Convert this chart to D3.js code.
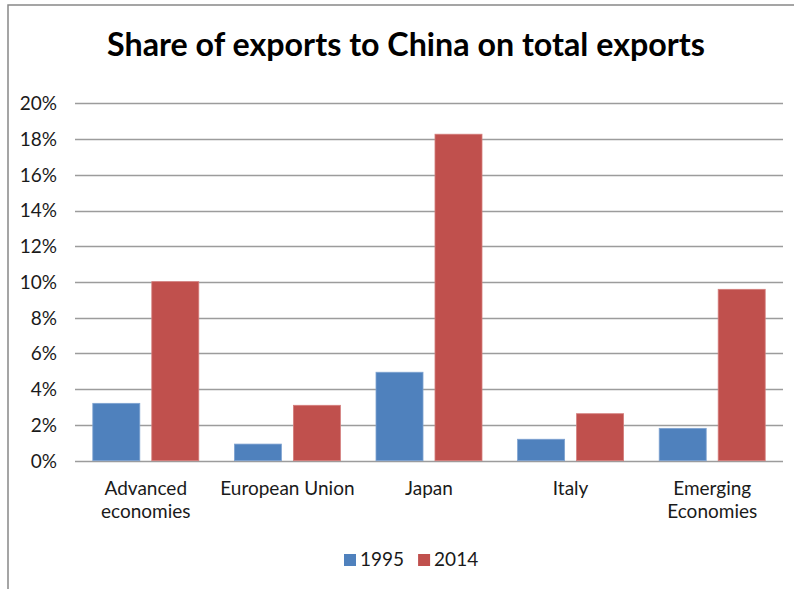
<!DOCTYPE html>
<html>
<head>
<meta charset="utf-8">
<script src="https://cdn.jsdelivr.net/npm/d3@7"></script>
<style>
  body { margin: 0; background: #fff; }
  text { font-family: Lato, "Open Sans", sans-serif; fill: #1a1a1a; }
</style>
</head>
<body>
<div id="chart"></div>
<script>
// data
var categories = [['Advanced', 'economies'], ['European Union'], ['Japan'], ['Italy'], ['Emerging', 'Economies']];
var seriesNames = ['1995', '2014'];
var values1995 = [0.0321, 0.0093, 0.0495, 0.0120, 0.0181];
var values2014 = [0.1002, 0.0310, 0.1827, 0.0263, 0.0959];
var yTicks = [0, 0.02, 0.04, 0.06, 0.08, 0.10, 0.12, 0.14, 0.16, 0.18, 0.20];
var colors = ['#4f81bd', '#c0504d'];
var strokes = ['#7fa3d1', '#d47e7c'];

var width = 794, height = 589;
var svg = d3.select('#chart').append('svg')
    .attr('width', width)
    .attr('height', height);

// outer frame (only top and left edges are visible)
svg.append('path')
    .attr('d', 'M8,589V5H794')
    .attr('fill', 'none')
    .attr('stroke', '#888')
    .attr('stroke-width', 1.5);

// title
svg.append('text')
    .attr('x', 406)
    .attr('y', 56)
    .attr('text-anchor', 'middle')
    .style('font-size', '32px')
    .style('font-weight', 'bold')
    .style('fill', '#000')
    .attr('textLength', 598)
    .attr('lengthAdjust', 'spacingAndGlyphs')
    .text('Share of exports to China on total exports');

var plotLeft = 75, plotRight = 783, plotTop = 103.3, plotBottom = 460.7;

var y = d3.scaleLinear().domain([0, 0.2]).range([plotBottom, plotTop]);
var x0 = d3.scaleBand().domain(d3.range(categories.length)).range([plotLeft, plotRight]);
var x1 = d3.scaleBand().domain(seriesNames)
    .range([17.8, x0.bandwidth() - 17.8])
    .paddingInner(0.203);

// gridlines
svg.append('g')
    .selectAll('line')
    .data(yTicks)
    .enter()
    .append('line')
    .attr('x1', plotLeft)
    .attr('x2', plotRight)
    .attr('y1', function(d) { return Math.round(y(d)) + 0.5; })
    .attr('y2', function(d) { return Math.round(y(d)) + 0.5; })
    .attr('stroke', '#9c9c9c')
    .attr('stroke-width', 1.3);

// y tick labels
svg.append('g')
    .selectAll('text')
    .data(yTicks)
    .enter()
    .append('text')
    .attr('x', 57)
    .attr('y', function(d) { return y(d); })
    .attr('dy', '0.36em')
    .attr('text-anchor', 'end')
    .style('font-size', '19px')
    .text(d3.format('.0%'));

// bars
var seriesData = [values1995, values2014];
seriesData.forEach(function(vals, s) {
    svg.append('g')
        .selectAll('rect')
        .data(vals)
        .enter()
        .append('rect')
        .attr('x', function(d, i) { return x0(i) + x1(seriesNames[s]); })
        .attr('y', function(d) { return y(d); })
        .attr('width', x1.bandwidth())
        .attr('height', function(d) { return plotBottom - y(d); })
        .attr('fill', colors[s])
        .attr('stroke', strokes[s])
        .attr('stroke-width', 0.8);
});

// category labels
var catG = svg.append('g')
    .selectAll('text')
    .data(categories)
    .enter()
    .append('text')
    .attr('x', function(d, i) { return x0(i) + x0.bandwidth() / 2; })
    .attr('y', 495)
    .attr('text-anchor', 'middle')
    .style('font-size', '19px');
catG.selectAll('tspan')
    .data(function(d) { return d; })
    .enter()
    .append('tspan')
    .attr('x', function() { return d3.select(this.parentNode).attr('x'); })
    .attr('dy', function(d, i) { return i === 0 ? 0 : 23; })
    .text(function(d) { return d; });

// legend
var legend = svg.append('g');
var lx = 344;
seriesNames.forEach(function(name, i) {
    legend.append('rect')
        .attr('x', lx)
        .attr('y', 554)
        .attr('width', 12)
        .attr('height', 12)
        .attr('fill', colors[i]);
    var t = legend.append('text')
        .attr('x', lx + 16)
        .attr('y', 566)
        .style('font-size', '19px')
        .text(name);
    lx += 16 + t.node().getComputedTextLength() + 14;
});
</script>
</body>
</html>
